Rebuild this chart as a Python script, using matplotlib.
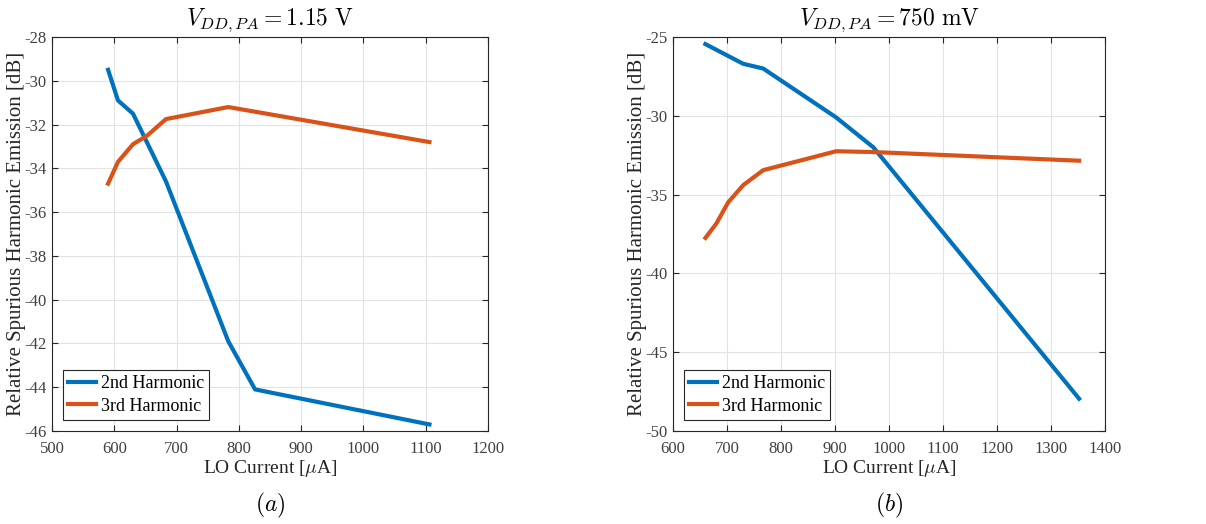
import matplotlib.pyplot as plt

plt.rcParams['font.family'] = ['Liberation Serif', 'DejaVu Serif']
plt.rcParams['mathtext.fontset'] = 'cm'
plt.rcParams['axes.unicode_minus'] = False

# panel (a): V_DD,PA = 1.15 V
xa_2nd = [590, 606, 630, 683, 783, 826, 1106]
ya_2nd = [-29.5, -30.9, -31.5, -34.6, -41.9, -44.1, -45.7]
xa_3rd = [590, 606, 630, 653, 683, 783, 1106]
ya_3rd = [-34.7, -33.7, -32.9, -32.5, -31.75, -31.2, -32.8]

# panel (b): V_DD,PA = 750 mV
xb_2nd = [660, 702, 730, 767, 902, 971, 1352]
yb_2nd = [-25.45, -26.2, -26.7, -27.0, -30.1, -32.0, -47.95]
xb_3rd = [660, 680, 702, 730, 767, 902, 971, 1352]
yb_3rd = [-37.75, -36.85, -35.5, -34.4, -33.45, -32.25, -32.3, -32.85]

blue = '#0072BD'
orange = '#D95319'

fig = plt.figure(figsize=(12.06, 5.24), dpi=100)
axa = fig.add_axes([52/1206, 1-431/524, 436/1206, 394/524])
axb = fig.add_axes([673/1206, 1-431/524, 432/1206, 394/524])


def style(ax, xlim, ylim, xticks, yticks, title, tag):
    ax.set_xlim(xlim)
    ax.set_ylim(ylim)
    ax.set_xticks(xticks)
    ax.set_yticks(yticks)
    ax.grid(True, color='#e3e3e3', linewidth=0.8)
    ax.set_axisbelow(True)
    for s in ax.spines.values():
        s.set_color('#262626')
        s.set_linewidth(0.8)
    ax.tick_params(direction='in', top=True, right=True, length=4,
                   colors='#262626', labelsize=12, labelcolor='#404040')
    ax.tick_params(axis='x', pad=7)
    ax.tick_params(axis='y', pad=4)
    ax.set_xlabel(r'LO Current [$\mu$A]', fontsize=14, color='#262626')
    ax.set_ylabel('Relative Spurious Harmonic Emission [dB]', fontsize=15,
                  color='#262626')
    ax.xaxis.set_label_coords(0.5, -0.068)
    ax.yaxis.set_label_coords(-0.06, 0.5)
    ax.set_title(title, fontsize=17, pad=9)
    ax.text(0.5, -0.19, tag, transform=ax.transAxes, ha='center',
            va='center', fontsize=17)
    leg = ax.legend(loc='lower left', fontsize=13, fancybox=False,
                    edgecolor='#262626', framealpha=1, handlelength=1.55,
                    borderpad=0.3, labelspacing=0.3, handletextpad=0.25,
                    borderaxespad=0.6)
    leg.get_frame().set_linewidth(0.8)


axa.plot(xa_2nd, ya_2nd, color=blue, lw=3, label='2nd Harmonic')
axa.plot(xa_3rd, ya_3rd, color=orange, lw=3, label='3rd Harmonic')
style(axa, (500, 1200), (-46, -28), range(500, 1201, 100),
      range(-46, -27, 2), r'$V_{DD,PA} = 1.15\ \mathrm{V}$', r'$(a)$')

axb.plot(xb_2nd, yb_2nd, color=blue, lw=3, label='2nd Harmonic')
axb.plot(xb_3rd, yb_3rd, color=orange, lw=3, label='3rd Harmonic')
style(axb, (600, 1400), (-50, -25), range(600, 1401, 100),
      range(-50, -24, 5), r'$V_{DD,PA} = 750\ \mathrm{mV}$', r'$(b)$')

fig.savefig('out.png', dpi=100)
